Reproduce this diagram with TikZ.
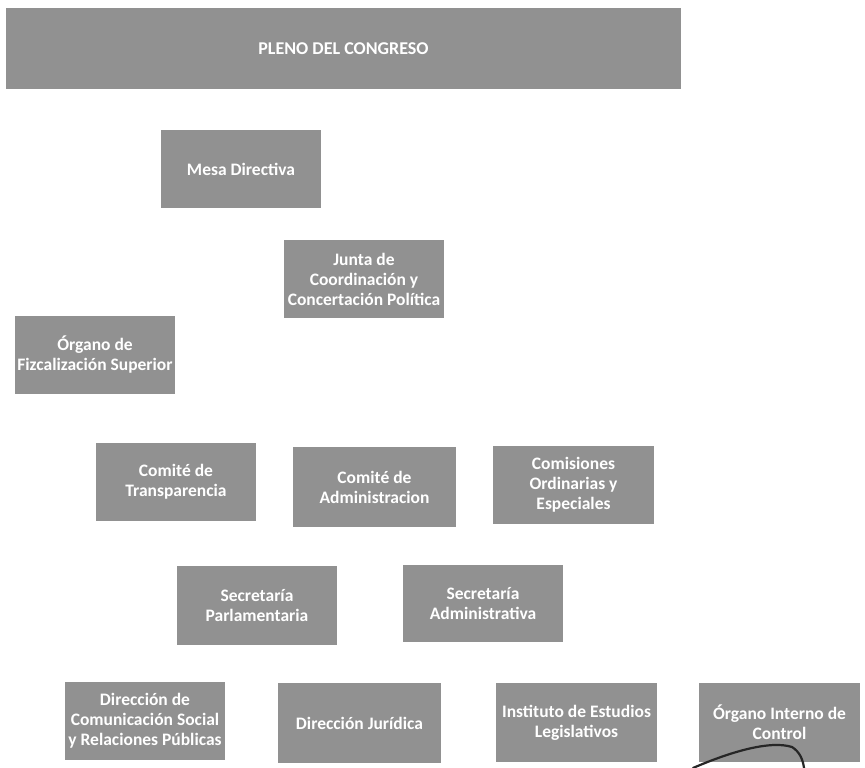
\documentclass[tikz,border=0pt]{standalone}
\usepackage{fontspec}
\setmainfont{Carlito}
\begin{document}
\begin{tikzpicture}[x=1pt,y=-1pt,
  box/.style={fill=boxgray, draw=none, text=white, font=\bfseries\fontsize{17.5}{20}\selectfont, align=center, inner sep=0pt, minimum width=160pt, minimum height=78pt},
  ink/.style={line width=2.2pt, draw=black!85, line cap=round}]
\definecolor{boxgray}{RGB}{145,145,145}
\useasboundingbox (0,0) rectangle (865,768);
\fill[white] (0,0) rectangle (865,768);
\node[box, minimum width=675pt, minimum height=81pt, font=\bfseries\fontsize{18}{20}\selectfont] (pleno) at (343.5,48.5) {PLENO DEL CONGRESO};
\node[box] (mesa) at (241,169) {Mesa Directiva};
\node[box] (junta) at (364,279) {Junta de\\Coordinación y\\Concertación Política};
\node[box] (ofs) at (95,355) {Órgano de\\Fizcalización Superior};
\node[box] (ct) at (176,482) {Comité de\\Transparencia};
\node[box, minimum width=163pt, minimum height=80pt] (ca) at (374.5,487) {Comité de\\Administracion};
\node[box, minimum width=161pt] (com) at (573.5,485) {Comisiones\\Ordinarias y\\Especiales};
\node[box, minimum height=79pt] (sp) at (257,605.5) {Secretaría\\Parlamentaria};
\node[box, minimum height=77pt] (sa) at (483,603.5) {Secretaría\\Administrativa};
\node[box] (dcs) at (145,721) {Dirección de\\Comunicación Social\\y Relaciones Públicas};
\node[box, minimum width=163pt, minimum height=80pt] (dj) at (359.5,723) {Dirección Jurídica};
\node[box, minimum width=161pt, minimum height=79pt] (ies) at (576.5,722.5) {Instituto de Estudios\\Legislativos};
\node[box, minimum width=161pt, minimum height=79pt] (oic) at (779.5,722.5) {Órgano  Interno de\\Control};
\draw[ink] (693,768) .. controls (730,752) and (770,740) .. (792,747) .. controls (800,752) and (803,760) .. (804,768);
\end{tikzpicture}
\end{document}
